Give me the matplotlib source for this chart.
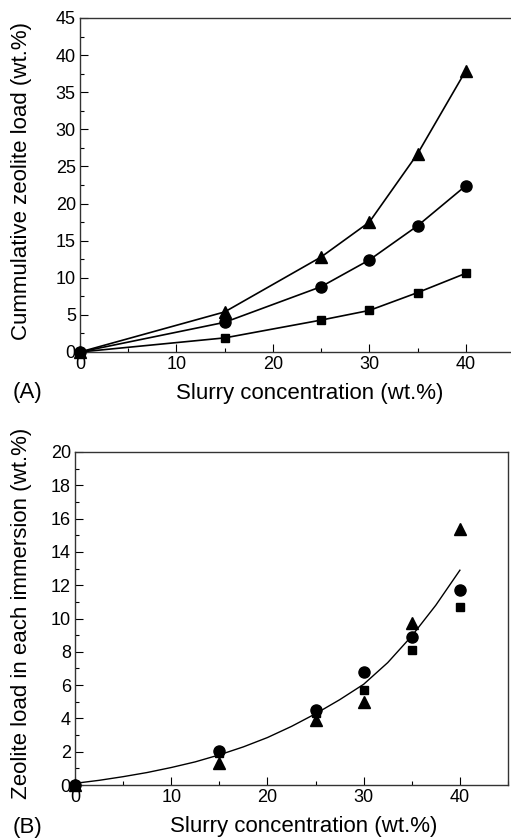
import matplotlib
matplotlib.use("Agg")
import matplotlib.pyplot as plt
from matplotlib.ticker import MultipleLocator

plt.rcParams['font.family'] = ['Liberation Sans', 'DejaVu Sans']

# Panel A: cumulative zeolite load
conc = [0, 15, 25, 30, 35, 40]
cum_square = [0, 1.9, 4.3, 5.6, 8.0, 10.6]
cum_circle = [0, 4.0, 8.8, 12.4, 17.0, 22.4]
cum_triangle = [0, 5.4, 12.8, 17.5, 26.7, 37.9]

# Panel B: zeolite load in each immersion
each_square = [0, 1.9, 4.3, 5.7, 8.1, 10.7]
each_circle = [0, 2.05, 4.5, 6.8, 8.9, 11.7]
each_triangle = [0, 1.35, 3.9, 5.0, 9.7, 15.4]

# Fitted curve
fit_x = [0, 2.5, 5, 7.5, 10, 12.5, 15, 17.5, 20, 22.5, 25, 27.5, 30, 32.5, 35, 37.5, 40]
fit_y = [0.10, 0.28, 0.50, 0.75, 1.05, 1.39, 1.81, 2.29, 2.85, 3.52, 4.28, 5.12, 6.05, 7.35, 8.95, 10.8, 12.9]

W, H = 511, 839
fig = plt.figure(figsize=(W / 100, H / 100), dpi=100)

axA = fig.add_axes([80 / W, (H - 352) / H, 434 / W, 334 / H])
axB = fig.add_axes([75 / W, (H - 785) / H, 433 / W, 333 / H])

fs = 13
lfs = 16
mk = dict(color='black', markeredgecolor='black', markerfacecolor='black')

axA.plot(conc, cum_triangle, '-^', lw=1.2, ms=8.5, **mk, clip_on=False, zorder=3)
axA.plot(conc, cum_circle, '-o', lw=1.2, ms=8, **mk, clip_on=False, zorder=3)
axA.plot(conc, cum_square, '-s', lw=1.2, ms=6, **mk, clip_on=False, zorder=3)
axA.set_xlim(0, 45)
axA.set_ylim(0, 45)
axA.xaxis.set_major_locator(MultipleLocator(10))
axA.xaxis.set_minor_locator(MultipleLocator(5))
axA.yaxis.set_major_locator(MultipleLocator(5))
axA.yaxis.set_minor_locator(MultipleLocator(2.5))
axA.set_xticks([0, 10, 20, 30, 40])
axA.set_xlabel('Slurry concentration (wt.%)', fontsize=lfs)
axA.set_ylabel('Cummulative zeolite load (wt.%)', fontsize=lfs)
axA.xaxis.set_label_coords(0.53, -0.093)
axA.yaxis.set_label_coords(-0.11, 0.512)
fig.text(13 / W, 1 - 392 / H, '(A)', fontsize=lfs, va='center', ha='left')

axB.plot(fit_x, fit_y, '-', color='black', lw=1.0, zorder=2)
axB.plot(conc, each_triangle, '^', ms=8.5, **mk, clip_on=False, zorder=3)
axB.plot(conc, each_square, 's', ms=6, **mk, clip_on=False, zorder=3)
axB.plot(conc, each_circle, 'o', ms=8, **mk, clip_on=False, zorder=4)
axB.set_xlim(0, 45)
axB.set_ylim(0, 20)
axB.xaxis.set_major_locator(MultipleLocator(10))
axB.xaxis.set_minor_locator(MultipleLocator(5))
axB.yaxis.set_major_locator(MultipleLocator(2))
axB.yaxis.set_minor_locator(MultipleLocator(1))
axB.set_xticks([0, 10, 20, 30, 40])
axB.set_xlabel('Slurry concentration (wt.%)', fontsize=lfs)
axB.set_ylabel('Zeolite load in each immersion (wt.%)', fontsize=lfs)
axB.xaxis.set_label_coords(0.529, -0.093)
axB.yaxis.set_label_coords(-0.099, 0.516)
fig.text(13 / W, 1 - 827 / H, '(B)', fontsize=lfs, va='center', ha='left')

for ax in (axA, axB):
    ax.tick_params(which='both', direction='in', labelsize=fs, pad=3)
    ax.tick_params(which='major', length=6, width=0.8)
    ax.tick_params(which='minor', length=3, width=0.8)
    for s in ax.spines.values():
        s.set_linewidth(1.0)
        s.set_color('#333333')

fig.savefig('out.png', dpi=100)
